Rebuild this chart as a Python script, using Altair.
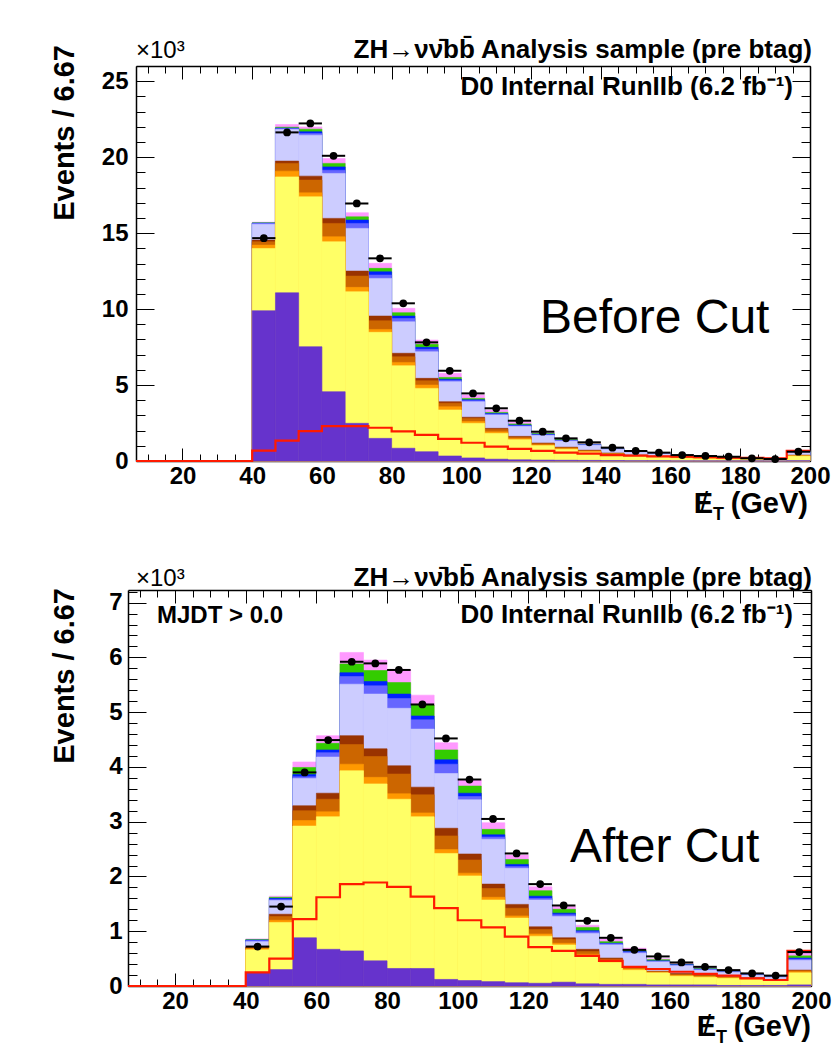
import altair as alt
import pandas as pd

# ---------------- data (values in units of 10^3 events) ----------------
EDGES = [6.67, 13.33, 20.0, 26.67, 33.33, 40.0, 46.67, 53.33, 60.0, 66.67,
         73.33, 80.0, 86.67, 93.33, 100.0, 106.67, 113.33, 120.0, 126.67, 133.33,
         140.0, 146.67, 153.33, 160.0, 166.67, 173.33, 180.0, 186.67, 193.33, 200.0]
FIRST_FILLED = 5  # bins from 40 GeV on are filled

COMPONENTS = ["pink", "green", "dblue", "mblue", "lavender",
              "dbrown", "brown", "lorange", "yellow", "purple"]
COLORS = ["#FF99FF", "#33CC00", "#0022FF", "#6666FF", "#CCCCFF",
          "#993300", "#CC6600", "#FF9900", "#FFFF66", "#6633CC"]

# Before cut: cumulative stack tops per bin (40..200 GeV)
B_PURPLE = [9.89, 11.07, 7.52, 4.56, 2.48, 1.49, 0.84, 0.61, 0.33, 0.20, 0.12, 0.08, 0.06, 0.05, 0.04, 0.03, 0.02, 0.02, 0.01, 0.01, 0.01, 0.01, 0.005, 0.02]
B_YELLOW = [13.99, 18.70, 17.39, 14.43, 11.14, 8.47, 6.27, 4.78, 3.36, 2.48, 1.82, 1.40, 1.01, 0.77, 0.59, 0.43, 0.32, 0.26, 0.19, 0.15, 0.12, 0.10, 0.075, 0.32]
B_LORANGE = [14.21, 19.08, 17.65, 14.76, 11.43, 8.66, 6.49, 5.00, 3.57, 2.60, 1.92, 1.47, 1.06, 0.81, 0.63, 0.46, 0.34, 0.28, 0.21, 0.16, 0.13, 0.11, 0.08, 0.34]
B_BROWN = [14.43, 19.59, 18.49, 15.64, 12.17, 9.23, 6.86, 5.28, 3.80, 2.80, 2.08, 1.57, 1.14, 0.88, 0.68, 0.50, 0.37, 0.30, 0.23, 0.18, 0.14, 0.12, 0.09, 0.37]
B_DBROWN = [14.54, 19.74, 18.75, 15.97, 12.50, 9.54, 7.09, 5.44, 3.90, 2.88, 2.15, 1.62, 1.18, 0.91, 0.71, 0.52, 0.39, 0.32, 0.24, 0.19, 0.15, 0.12, 0.095, 0.38]
B_LAVENDER = [15.59, 21.82, 21.45, 18.93, 15.31, 12.02, 9.16, 7.19, 5.22, 3.90, 3.03, 2.27, 1.68, 1.31, 1.04, 0.77, 0.58, 0.47, 0.36, 0.28, 0.23, 0.18, 0.145, 0.58]
B_MBLUE = [15.63, 21.88, 21.56, 19.14, 15.64, 12.24, 9.38, 7.35, 5.30, 3.97, 3.08, 2.32, 1.72, 1.34, 1.06, 0.79, 0.595, 0.48, 0.37, 0.29, 0.235, 0.185, 0.15, 0.60]
B_DBLUE = [15.66, 21.91, 21.67, 19.36, 15.86, 12.45, 9.54, 7.48, 5.38, 4.03, 3.13, 2.37, 1.76, 1.37, 1.08, 0.81, 0.61, 0.49, 0.38, 0.30, 0.24, 0.19, 0.155, 0.62]
B_GREEN = [15.68, 21.97, 21.84, 19.59, 16.07, 12.68, 9.76, 7.68, 5.50, 4.12, 3.20, 2.44, 1.82, 1.42, 1.12, 0.84, 0.63, 0.51, 0.39, 0.31, 0.25, 0.20, 0.16, 0.65]
B_PINK = [15.72, 22.15, 21.99, 19.91, 16.34, 13.01, 10.05, 7.96, 5.77, 4.34, 3.36, 2.59, 1.92, 1.50, 1.18, 0.89, 0.67, 0.54, 0.41, 0.33, 0.265, 0.21, 0.17, 0.70]
B_DATA = [14.67, 21.63, 22.22, 20.09, 16.95, 13.34, 10.38, 7.81, 5.94, 4.45, 3.47, 2.65, 1.93, 1.49, 1.23, 0.88, 0.66, 0.55, 0.39, 0.33, 0.28, 0.18, 0.13, 0.61]
B_RED = [0, 0, 0, 0, 0, 0.68, 1.34, 1.97, 2.30, 2.30, 2.19, 1.95, 1.72, 1.45, 1.20, 0.95, 0.80, 0.66, 0.55, 0.48, 0.39, 0.35, 0.31, 0.28, 0.25, 0.22, 0.20, 0.18, 0.66]

# After cut
A_PURPLE = [0.24, 0.30, 0.88, 0.67, 0.64, 0.46, 0.32, 0.32, 0.12, 0.10, 0.08, 0.06, 0.05, 0.07, 0.04, 0.03, 0.03, 0.02, 0.02, 0.02, 0.01, 0.01, 0.01, 0.02]
A_YELLOW = [0.66, 1.16, 2.92, 3.09, 3.93, 3.69, 3.41, 3.09, 2.42, 2.01, 1.57, 1.24, 0.91, 0.75, 0.55, 0.43, 0.29, 0.24, 0.18, 0.16, 0.14, 0.12, 0.10, 0.24]
A_LORANGE = [0.68, 1.20, 3.02, 3.18, 4.05, 3.81, 3.51, 3.16, 2.49, 2.06, 1.62, 1.28, 0.95, 0.78, 0.58, 0.45, 0.31, 0.25, 0.19, 0.17, 0.15, 0.13, 0.11, 0.26]
A_BROWN = [0.70, 1.27, 3.20, 3.41, 4.41, 4.19, 3.87, 3.49, 2.74, 2.30, 1.78, 1.42, 1.03, 0.85, 0.63, 0.49, 0.33, 0.26, 0.21, 0.19, 0.16, 0.14, 0.11, 0.28]
A_DBROWN = [0.71, 1.31, 3.29, 3.52, 4.57, 4.33, 4.02, 3.63, 2.88, 2.41, 1.86, 1.49, 1.08, 0.88, 0.67, 0.51, 0.35, 0.27, 0.23, 0.20, 0.17, 0.15, 0.12, 0.29]
A_LAVENDER = [0.81, 1.56, 3.79, 4.18, 5.51, 5.33, 5.07, 4.69, 3.88, 3.40, 2.68, 2.15, 1.57, 1.27, 0.96, 0.75, 0.60, 0.44, 0.37, 0.29, 0.25, 0.20, 0.16, 0.47]
A_MBLUE = [0.83, 1.58, 3.82, 4.26, 5.65, 5.48, 5.25, 4.86, 4.05, 3.46, 2.72, 2.18, 1.60, 1.30, 0.99, 0.77, 0.62, 0.45, 0.38, 0.30, 0.26, 0.20, 0.16, 0.49]
A_DBLUE = [0.84, 1.60, 3.86, 4.31, 5.72, 5.56, 5.33, 4.93, 4.13, 3.52, 2.76, 2.22, 1.64, 1.33, 1.01, 0.78, 0.63, 0.46, 0.39, 0.31, 0.26, 0.21, 0.17, 0.51]
A_GREEN = [0.85, 1.62, 3.99, 4.43, 5.88, 5.76, 5.54, 5.13, 4.31, 3.65, 2.86, 2.31, 1.74, 1.40, 1.07, 0.81, 0.65, 0.48, 0.40, 0.32, 0.27, 0.21, 0.17, 0.55]
A_PINK = [0.86, 1.64, 4.09, 4.57, 6.09, 5.95, 5.78, 5.31, 4.44, 3.76, 2.98, 2.39, 1.81, 1.45, 1.11, 0.86, 0.69, 0.50, 0.42, 0.34, 0.29, 0.22, 0.18, 0.60]
A_DATA = [0.72, 1.45, 3.90, 4.49, 5.92, 5.89, 5.77, 5.14, 4.52, 3.77, 3.05, 2.42, 1.86, 1.47, 1.19, 0.88, 0.66, 0.54, 0.43, 0.35, 0.29, 0.23, 0.19, 0.62]
A_RED = [0, 0, 0, 0, 0, 0.25, 0.50, 1.22, 1.62, 1.86, 1.89, 1.81, 1.63, 1.42, 1.20, 1.07, 0.90, 0.71, 0.64, 0.55, 0.46, 0.35, 0.31, 0.26, 0.22, 0.19, 0.14, 0.11, 0.64]

X_MAJOR = [20, 40, 60, 80, 100, 120, 140, 160, 180, 200]
X_MINOR = [10, 15, 25, 30, 35, 45, 50, 55, 65, 70, 75, 85, 90, 95, 105, 110, 115,
           125, 130, 135, 145, 150, 155, 165, 170, 175, 185, 190, 195]
B_Y_MAJOR = [0, 5, 10, 15, 20, 25]
B_Y_MINOR = [1, 2, 3, 4, 6, 7, 8, 9, 11, 12, 13, 14, 16, 17, 18, 19, 21, 22, 23, 24, 26]
A_Y_MAJOR = [0, 1, 2, 3, 4, 5, 6, 7]
A_Y_MINOR = [0.2, 0.4, 0.6, 0.8, 1.2, 1.4, 1.6, 1.8, 2.2, 2.4, 2.6, 2.8, 3.2, 3.4, 3.6, 3.8,
             4.2, 4.4, 4.6, 4.8, 5.2, 5.4, 5.6, 5.8, 6.2, 6.4, 6.6, 6.8, 7.2]

# ---------------- layout ----------------
W, H = 839, 1050
FONT = "Liberation Sans"
LABEL_SIZE = 24

cscale = alt.Scale(domain=COMPONENTS, range=COLORS)


def axis(orient, offset, values, tick=0, labels=False, domain=False, pad=4):
    kw = dict(orient=orient, offset=offset, values=values, grid=False,
              domain=domain, labels=labels, ticks=tick > 0)
    if tick > 0:
        kw.update(tickSize=tick, tickColor="black", tickWidth=1)
    if domain:
        kw.update(domainColor="black", domainWidth=1.5)
    if labels:
        kw.update(labelFont=FONT, labelFontWeight="bold", labelFontSize=LABEL_SIZE,
                  labelColor="black", labelFlush=False, labelOverlap=False,
                  labelPadding=pad, labelBound=False)
    return alt.Axis(**kw)


def text(txt, x, y, size, align="left", weight="bold", angle=None, baseline="alphabetic"):
    kw = dict(align=align, baseline=baseline, font=FONT, fontSize=size,
              fontWeight=weight, color="black")
    if angle is not None:
        kw["angle"] = angle
    return alt.Chart(pd.DataFrame({"t": [txt]})).mark_text(**kw).encode(
        x=alt.value(x), y=alt.value(y), text="t:N")


def panel(stack, data, red, geom, ymax, y_major, y_minor, xpad, ypad):
    L, R, T, B = geom
    xsc = alt.Scale(domain=[6.67, 200], range=[L, R], nice=False, zero=False)
    ysc = alt.Scale(domain=[0, ymax], range=[B, T], nice=False, zero=False)

    rows = []
    for k, (comp, tops) in enumerate(zip(COMPONENTS, stack)):
        for i, v in enumerate(tops):
            rows.append(dict(comp=comp, k=k, x0=EDGES[FIRST_FILLED + i],
                             x1=EDGES[FIRST_FILLED + i + 1], top=v, base=0))
    sdf = pd.DataFrame(rows)

    ddf = pd.DataFrame(dict(
        x0=EDGES[FIRST_FILLED:-1], x1=EDGES[FIRST_FILLED + 1:],
        d=data))
    ddf["xc"] = (ddf.x0 + ddf.x1) / 2

    rdf = pd.DataFrame(dict(x=EDGES, v=red + [red[-1]]))

    rects = alt.Chart(sdf).mark_rect(strokeWidth=0.6).encode(
        x=alt.X("x0:Q", scale=xsc, title=None,
                axis=axis("bottom", B - H, X_MAJOR, labels=True, domain=True, pad=xpad)),
        x2="x1:Q",
        y=alt.Y("top:Q", scale=ysc, title=None,
                axis=axis("left", -L, y_major, labels=True, domain=True, pad=ypad)),
        y2="base:Q",
        color=alt.Color("comp:N", scale=cscale, legend=None),
        stroke=alt.Stroke("comp:N", scale=cscale, legend=None),
        order=alt.Order("k:Q"),
    )
    redline = alt.Chart(rdf).mark_line(color="#FF1A00", strokeWidth=2.2,
                                       interpolate="step-after").encode(
        x=alt.X("x:Q", scale=xsc, title=None,
                axis=axis("bottom", T - H, X_MAJOR, tick=13, domain=True)),
        y=alt.Y("v:Q", scale=ysc, title=None,
                axis=axis("left", -R, y_major, tick=18, domain=True)),
    )
    errs = alt.Chart(ddf).mark_rule(color="black", strokeWidth=2).encode(
        x=alt.X("x0:Q", scale=xsc, title=None, axis=axis("top", -B, X_MAJOR, tick=13)),
        x2="x1:Q",
        y=alt.Y("d:Q", scale=ysc, title=None, axis=axis("right", L - W, y_major, tick=18)),
    )
    pts = alt.Chart(ddf).mark_circle(size=60, color="black", opacity=1).encode(
        x=alt.X("xc:Q", scale=xsc, title=None, axis=axis("top", -B, X_MINOR, tick=7)),
        y=alt.Y("d:Q", scale=ysc, title=None, axis=axis("right", L - W, y_minor, tick=9)),
    )
    ghost = alt.Chart(ddf).mark_point(opacity=0).encode(
        x=alt.X("xc:Q", scale=xsc, title=None, axis=axis("bottom", T - H, X_MINOR, tick=7)),
        y=alt.Y("d:Q", scale=ysc, title=None, axis=axis("left", -R, y_minor, tick=9)),
    )
    return [rects, redline, errs, pts, ghost]


TOP = (136, 810, 66, 461)
BOT = (128, 811, 590, 986)

layers = []
layers += panel([B_PINK, B_GREEN, B_DBLUE, B_MBLUE, B_LAVENDER, B_DBROWN, B_BROWN,
                 B_LORANGE, B_YELLOW, B_PURPLE], B_DATA, B_RED, TOP, 26.0,
                B_Y_MAJOR, B_Y_MINOR, 3, 8)
layers += panel([A_PINK, A_GREEN, A_DBLUE, A_MBLUE, A_LAVENDER, A_DBROWN, A_BROWN,
                 A_LORANGE, A_YELLOW, A_PURPLE], A_DATA, A_RED, BOT, 7.23,
                A_Y_MAJOR, A_Y_MINOR, 3, 6)

TITLE = "ZH\u2192\u03bd\u03bd\u0304bb\u0304 Analysis sample (pre btag)"
for dy in (0, 528):
    layers.append(text(TITLE, 812, 58 + dy, 26, align="right"))
    layers.append(text("\u00d710\u00b3", 136, 58 + dy, 24, weight="normal"))
    layers.append(text("D0 Internal RunIIb (6.2 fb\u207b\u00b9)", 793, 95 + dy, 26, align="right"))
layers.append(text("MJDT > 0.0", 157, 623, 24))

layers.append(text("Events / 6.67", 74, 45, 29, align="right", angle=270))
layers.append(text("Events / 6.67", 74, 588, 29, align="right", angle=270))

# missing-ET axis titles: "E" with a slash through it, subscript T, then (GeV)
for dx, base in ((0, 513), (3, 1036)):
    layers.append(text("(GeV)", 808 + dx, base, 29, align="right"))
    layers.append(text("T", 713 + dx, base + 7, 18, align="left"))
    layers.append(text("E", 713 + dx, base, 29, align="right"))
    layers.append(text("/", 704 + dx, base, 29, align="center", weight="normal"))

layers.append(text("Before Cut", 540, 333, 48, weight="normal"))
layers.append(text("After Cut", 570, 862, 48, weight="normal"))

chart = alt.layer(*layers).resolve_scale(
    x="independent", y="independent"
).resolve_axis(
    x="independent", y="independent"
).properties(
    width=W, height=H, padding=0,
    autosize=alt.AutoSizeParams(type="none"),
).configure_view(strokeWidth=0)

chart.save("out.html", embed_options={"renderer": "svg", "actions": False})
